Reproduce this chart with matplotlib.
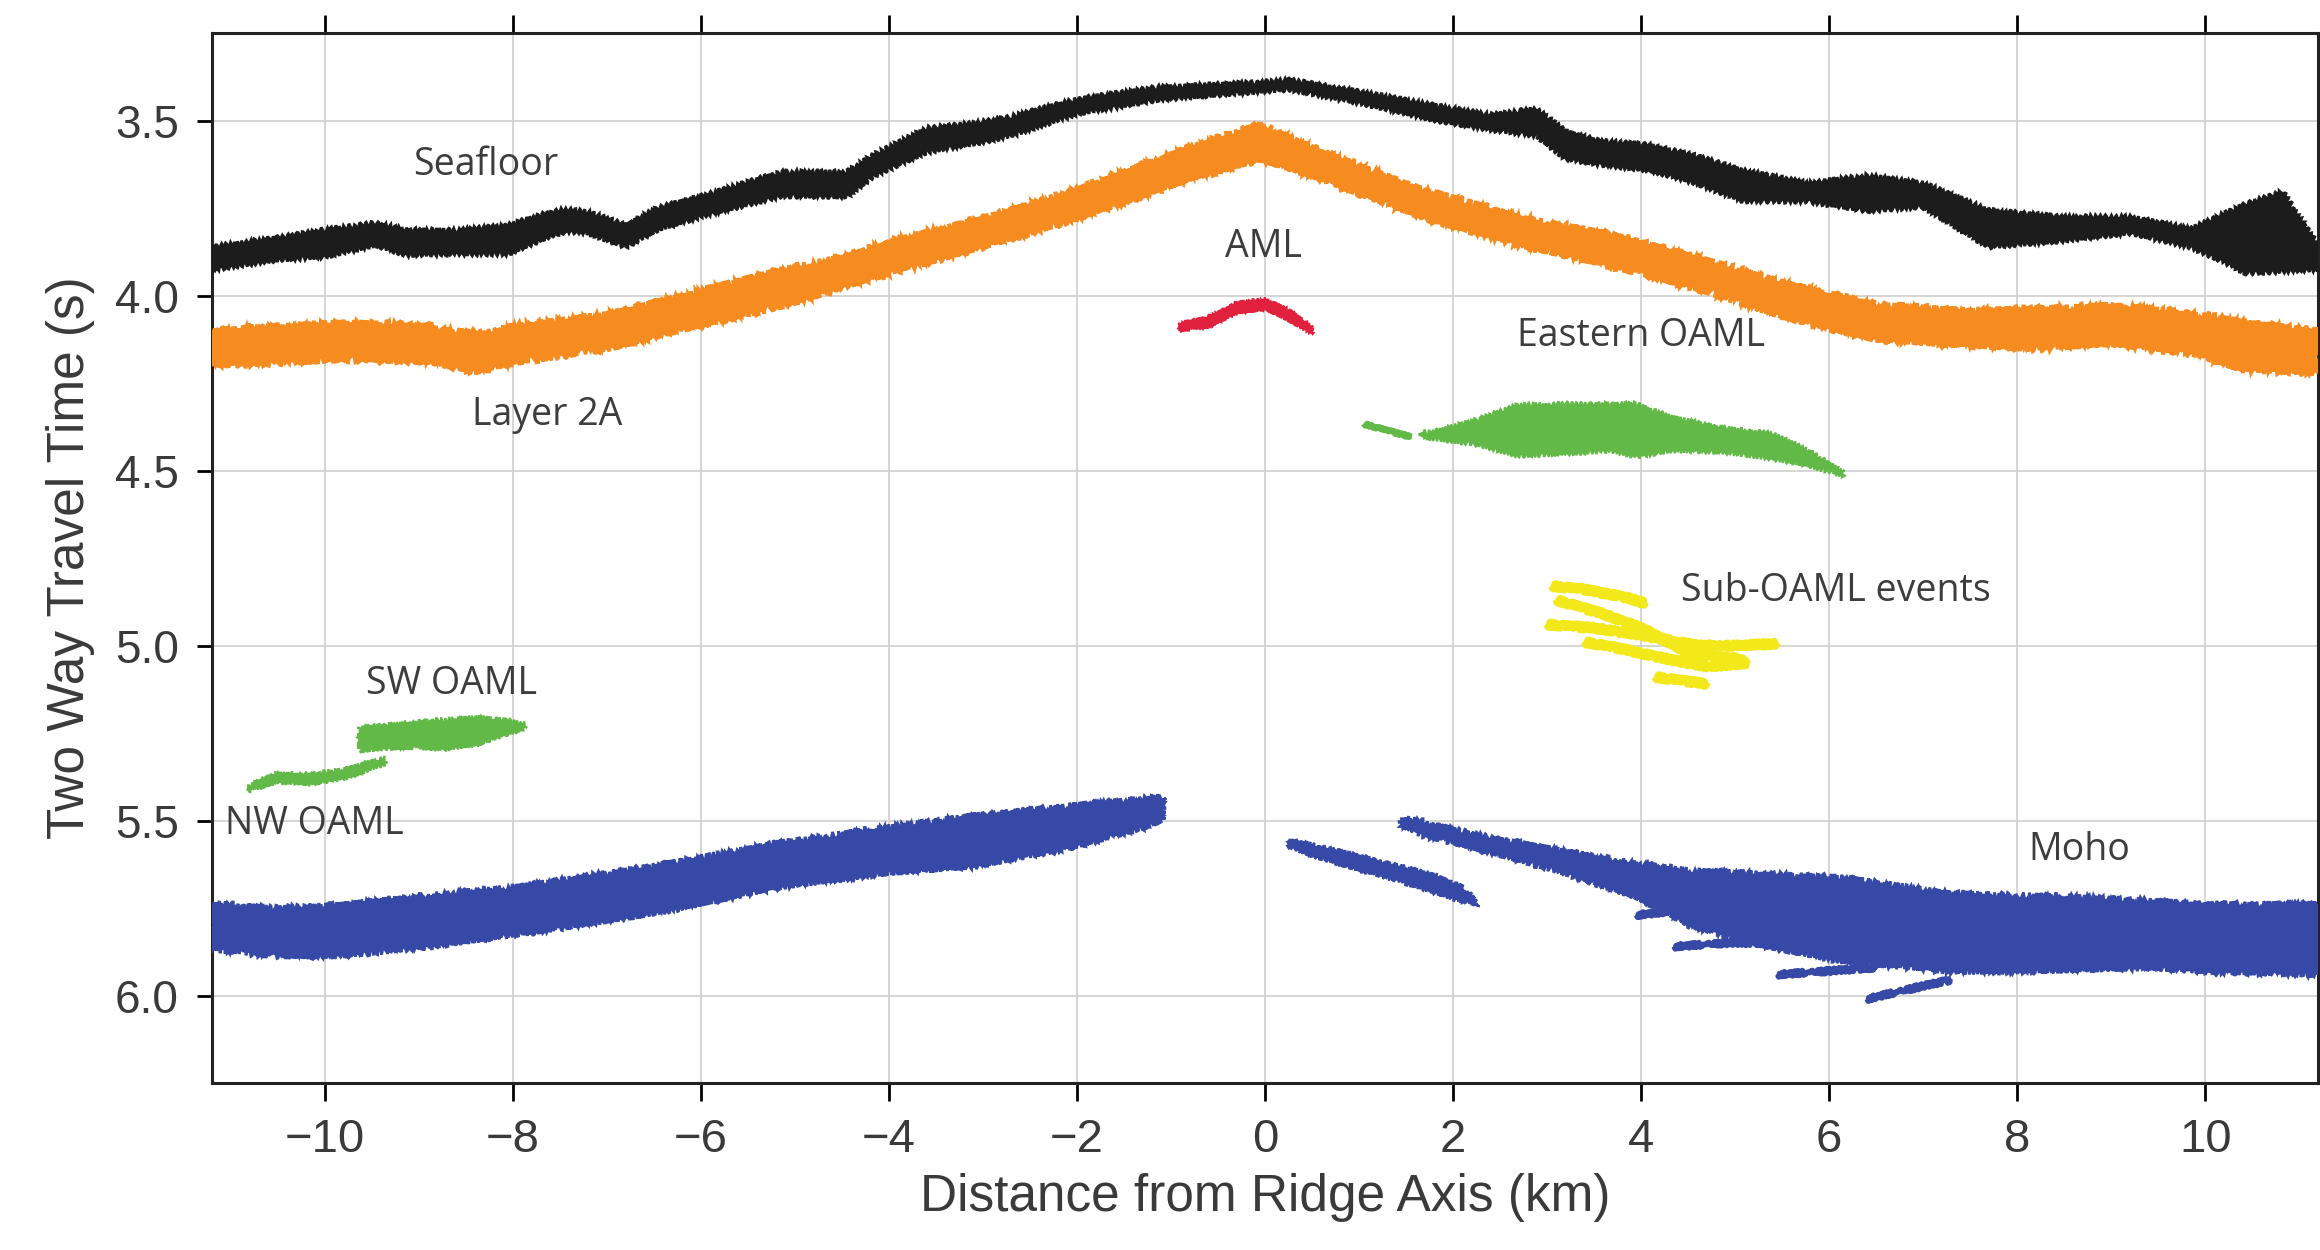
import numpy as np
import matplotlib.pyplot as plt

# ---- picked horizons: x (km from axis), top / bottom of each band (s TWTT) ----
sea_x = [-11.2, -10.5, -10.0, -9.46, -9.14, -8.6, -8.05, -7.7, -7.45, -7.2, -6.8, -6.45,
         -5.9, -5.15, -4.45, -4.15, -3.6, -3.0, -2.7, -2.0, -1.15, -0.06, 0.27, 1.03,
         1.85, 2.4, 2.88, 3.2, 3.57, 4.06, 4.55, 5.09, 5.77, 6.41, 7.0, 7.69, 8.47,
         9.2, 9.84, 10.18, 10.43, 10.82, 11.2]
sea_top = [3.862, 3.836, 3.813, 3.794, 3.813, 3.815, 3.80, 3.77, 3.755, 3.762, 3.80, 3.75,
           3.71, 3.648, 3.648, 3.598, 3.523, 3.505, 3.49, 3.44, 3.406, 3.392, 3.385, 3.42,
           3.46, 3.485, 3.467, 3.533, 3.56, 3.57, 3.60, 3.644, 3.68, 3.658, 3.68, 3.757, 3.776,
           3.776, 3.81, 3.77, 3.74, 3.705, 3.86]
sea_bot = [3.925, 3.897, 3.888, 3.855, 3.883, 3.88, 3.88, 3.84, 3.815, 3.82, 3.86, 3.81,
           3.766, 3.715, 3.716, 3.655, 3.589, 3.56, 3.542, 3.48, 3.44, 3.416, 3.41, 3.45,
           3.50, 3.525, 3.542, 3.608, 3.625, 3.64, 3.675, 3.729, 3.73, 3.757, 3.745, 3.86, 3.843,
           3.82, 3.86, 3.90, 3.935, 3.93, 3.925]

l2a_x = [-11.2, -10.5, -9.7, -8.9, -8.4, -8.0, -7.0, -5.9, -5.15, -4.45, -3.9, -2.8, -2.0,
         -0.9, -0.06, 0.5, 1.6, 2.7, 3.6, 4.55, 5.5, 6.5, 7.5, 8.2, 9.0, 9.9, 10.4, 11.2]
l2a_top = [4.103, 4.089, 4.08, 4.09, 4.112, 4.09, 4.056, 3.98, 3.93, 3.89, 3.842, 3.767, 3.70,
           3.589, 3.514, 3.58, 3.692, 3.777, 3.823, 3.889, 3.964, 4.03, 4.045, 4.04, 4.03,
           4.055, 4.077, 4.105]
l2a_bot = [4.196, 4.19, 4.18, 4.187, 4.215, 4.19, 4.15, 4.075, 4.03, 3.97, 3.927, 3.842, 3.777,
           3.674, 3.608, 3.655, 3.767, 3.852, 3.908, 3.974, 4.058, 4.124, 4.14, 4.15, 4.135,
           4.165, 4.21, 4.218]

aml_x = [-0.91, -0.6, -0.3, 0.0, 0.25, 0.5]
aml_top = [4.08, 4.06, 4.02, 4.01, 4.04, 4.09]
aml_bot = [4.10, 4.09, 4.05, 4.04, 4.07, 4.11]

eoaml_x = [1.66, 1.85, 2.23, 2.69, 3.18, 3.68, 3.94, 4.32, 4.9, 5.39, 5.77, 6.15]
eoaml_top = [4.393, 4.386, 4.357, 4.314, 4.31, 4.31, 4.31, 4.348, 4.38, 4.395, 4.443, 4.505]
eoaml_bot = [4.405, 4.41, 4.424, 4.457, 4.452, 4.443, 4.46, 4.443, 4.448, 4.465, 4.485, 4.515]
eoaml_tail_x = [1.05, 1.56]
eoaml_tail_y = [4.367, 4.405]

sw_x = [-9.63, -9.4, -9.09, -8.73, -8.375, -8.02, -7.875]
sw_top = [5.235, 5.228, 5.22, 5.212, 5.206, 5.215, 5.225]
sw_bot = [5.30, 5.295, 5.29, 5.296, 5.282, 5.249, 5.235]

nw_x = [-10.8, -10.52, -10.16, -9.8, -9.36]
nw_top = [5.40, 5.365, 5.368, 5.355, 5.322]
nw_bot = [5.415, 5.39, 5.395, 5.38, 5.338]

# sub-OAML event streaks
sub_streaks = [
    ([3.05, 3.4, 3.8, 4.05], [4.83, 4.84, 4.86, 4.88]),
    ([3.0, 3.5, 4.0, 4.6, 5.0, 5.45], [4.94, 4.95, 4.97, 5.0, 5.0, 4.995]),
    ([3.1, 3.6, 4.0, 4.5, 5.1], [4.87, 4.91, 4.95, 5.02, 5.04]),
    ([3.4, 3.8, 4.3, 4.7, 5.15], [4.99, 5.01, 5.04, 5.06, 5.05]),
    ([4.15, 4.7], [5.09, 5.11]),
]

moho_w_x = [-11.2, -10.54, -9.86, -8.84, -7.82, -6.46, -5.1, -4.0, -3.06, -2.0, -1.3, -1.09]
moho_w_top = [5.738, 5.752, 5.743, 5.714, 5.686, 5.629, 5.562, 5.52, 5.486, 5.457, 5.44, 5.433]
moho_w_bot = [5.867, 5.886, 5.886, 5.857, 5.819, 5.762, 5.686, 5.648, 5.629, 5.571, 5.52, 5.495]

moho_c_x = [0.26, 0.6, 1.2, 1.8, 2.1, 2.26]
moho_c_top = [5.555, 5.575, 5.615, 5.655, 5.69, 5.735]
moho_c_bot = [5.575, 5.61, 5.655, 5.705, 5.73, 5.745]

moho_e_x = [1.45, 1.6, 2.2, 3.14, 3.97, 4.53, 5.36, 6.12, 7.29, 7.98, 8.68, 9.37, 10.06, 11.2]
moho_e_top = [5.495, 5.50, 5.54, 5.587, 5.625, 5.644, 5.655, 5.663, 5.71, 5.715, 5.72, 5.73, 5.74, 5.74]
moho_e_bot = [5.51, 5.535, 5.575, 5.644, 5.72, 5.80, 5.86, 5.90, 5.93, 5.93, 5.925, 5.92, 5.93, 5.94]

moho_strays = [
    ([3.95, 4.3], [5.77, 5.76]),
    ([4.35, 4.9, 5.6], [5.86, 5.85, 5.85]),
    ([5.45, 6.0, 6.5], [5.94, 5.93, 5.92]),
    ([6.4, 6.8, 7.3], [6.01, 5.985, 5.955]),
]

labels = [
    ("Seafloor", -8.29, 3.627),
    ("Layer 2A", -7.64, 4.34),
    ("AML", -0.02, 3.86),
    ("Eastern OAML", 4.0, 4.117),
    ("Sub-OAML events", 6.07, 4.845),
    ("SW OAML", -8.65, 5.11),
    ("NW OAML", -10.11, 5.51),
    ("Moho", 8.66, 5.585),
]

xticks = [-10, -8, -6, -4, -2, 0, 2, 4, 6, 8, 10]
yticks = [3.5, 4.0, 4.5, 5.0, 5.5, 6.0]

BLACK = '#1c1c1c'
ORANGE = '#f68b1f'
RED = '#e0203c'
GREEN = '#62b947'
YELLOW = '#f3e81a'
BLUE = '#3649a6'

plt.rcParams['font.family'] = ['Liberation Sans', 'DejaVu Sans']

fig = plt.figure(figsize=(23.2, 12.5), dpi=100)
ax = fig.add_axes([0.0914, 0.1336, 0.9078, 0.84])


def band(x, top, bot, color, jag=None, lw=1.5):
    # closed outline: along the top edge, back along the bottom edge
    px = list(x) + list(x)[::-1]
    py = list(top) + list(bot)[::-1]
    poly, = ax.fill(px, py, color=color, lw=lw, ec=color, zorder=3)
    if jag is not None:
        poly.set_sketch_params(*jag)
    return poly


def streak(x, y, color, lw, jag):
    line, = ax.plot(x, y, color=color, lw=lw, solid_capstyle='butt', zorder=3)
    line.set_sketch_params(*jag)
    return line


band(sea_x, sea_top, sea_bot, BLACK, jag=(2.5, 5, 2), lw=2)
band(l2a_x, l2a_top, l2a_bot, ORANGE, jag=(4, 1.5, 3), lw=2.5)
band(aml_x, aml_top, aml_bot, RED, jag=(1.5, 3, 2))
band(eoaml_x, eoaml_top, eoaml_bot, GREEN, jag=(2.5, 4, 2))
streak(eoaml_tail_x, eoaml_tail_y, GREEN, 4, (1.5, 4, 2))
band(sw_x, sw_top, sw_bot, GREEN, jag=(2.5, 3, 2))
band(nw_x, nw_top, nw_bot, GREEN, jag=(2.5, 3, 2))

for sx, sy in sub_streaks:
    streak(sx, sy, YELLOW, 5.5, (2.5, 4, 2))

band(moho_w_x, moho_w_top, moho_w_bot, BLUE, jag=(3.5, 2, 3), lw=2)
band(moho_c_x, moho_c_top, moho_c_bot, BLUE, jag=(2.5, 2, 2))
band(moho_e_x, moho_e_top, moho_e_bot, BLUE, jag=(3.5, 2, 3), lw=2)
for sx, sy in moho_strays:
    streak(sx, sy, BLUE, 4, (2.5, 2, 2))

for txt, x, y in labels:
    ax.text(x, y, txt, ha='center', va='center', fontsize=27, color='#3d3d3d',
            family=['Open Sans', 'DejaVu Sans'], zorder=5)

ax.set_xlim(-11.2, 11.2)
ax.set_ylim(6.25, 3.25)
ax.set_xticks(xticks)
ax.set_yticks(yticks)
ax.set_xticklabels([str(t).replace('-', '\u2212') for t in xticks])
ax.set_yticklabels(['%.1f' % t for t in yticks])
ax.grid(True, color='#d2d2d2', lw=1.3, zorder=0)
ax.set_axisbelow(True)

ax.tick_params(axis='x', which='both', top=True, bottom=True, direction='out',
               length=13, width=2, pad=12, labelsize=34, labelcolor='#3a3a3a')
ax.tick_params(axis='y', which='both', left=True, right=False, direction='out',
               length=11, width=2, pad=13, labelsize=33, labelcolor='#3a3a3a')
for s in ax.spines.values():
    s.set_linewidth(2.2)
    s.set_color('#222222')

ax.set_xlabel('Distance from Ridge Axis (km)', fontsize=37, color='#3a3a3a', labelpad=8)
ax.set_ylabel('Two Way Travel Time (s)', fontsize=37, color='#3a3a3a', labelpad=14)

fig.savefig('out.png', dpi=100)
